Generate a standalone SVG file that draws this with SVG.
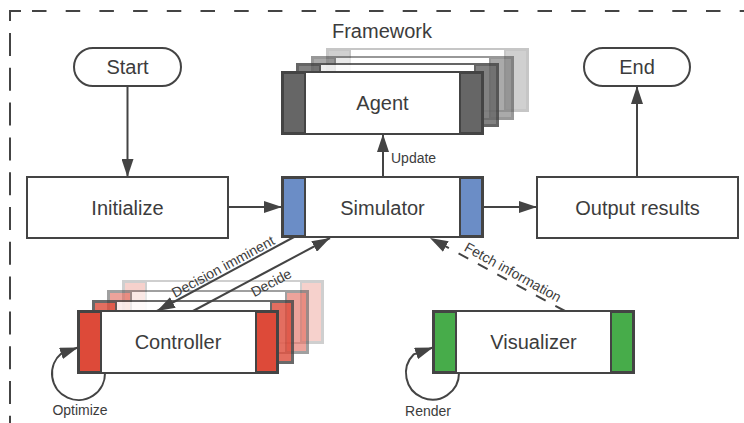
<svg xmlns="http://www.w3.org/2000/svg" width="744" height="423" viewBox="0 0 744 423">
<style>
.box{fill:#fff;stroke:#444;stroke-width:2}
.lbl{font-family:"Liberation Sans",Arial,sans-serif;font-size:20px;fill:#3c3c3c;text-anchor:middle}
.sm{font-family:"Liberation Sans",Arial,sans-serif;font-size:14px;fill:#3c3c3c}
.con{fill:none;stroke:#444;stroke-width:2}
.agent{fill:#666}
.sim{fill:#6b8dc6}
.ctl{fill:#dd4a39}
.vis{fill:#47ac4a}
</style>
<defs>
<marker id="ah" markerUnits="userSpaceOnUse" markerWidth="18" markerHeight="12" refX="18" refY="6" orient="auto">
<path d="M0,0 L18,6 L0,12 z" fill="#444"/>
</marker>
<g id="agentShape">
<rect class="box" x="0" y="0" width="201" height="62"/>
<rect class="agent" x="1" y="1" width="22" height="60" stroke="#444" stroke-width="2"/>
<rect class="agent" x="178" y="1" width="22" height="60" stroke="#444" stroke-width="2"/>
</g>
<g id="ctlShape">
<rect class="box" x="0" y="0" width="200" height="62"/>
<rect class="ctl" x="1" y="1" width="22" height="60" stroke="#444" stroke-width="2"/>
<rect class="ctl" x="178" y="1" width="21" height="60" stroke="#444" stroke-width="2"/>
</g>
</defs>

<g id="frame" fill="none" stroke="#444" stroke-width="2">
<path d="M10,21 V11 H21"/>
<path d="M32,11 H744" stroke-dasharray="14.5 19.2"/>
<path d="M10,33 V423" stroke-dasharray="23 11.8"/>
</g>

<text class="lbl" x="382" y="38">Framework</text>

<g id="start">
<rect class="box" x="74" y="48" width="107" height="38" rx="19"/>
<text class="lbl" x="127.5" y="74">Start</text>
</g>

<g id="end">
<rect class="box" x="584" y="48" width="106" height="38" rx="19"/>
<text class="lbl" x="637" y="74">End</text>
</g>

<g id="initialize">
<rect class="box" x="27" y="177" width="201" height="61"/>
<text class="lbl" x="127.5" y="214.5">Initialize</text>
</g>

<g id="output">
<rect class="box" x="537" y="177" width="201" height="61"/>
<text class="lbl" x="637.5" y="214.5">Output results</text>
</g>

<g id="agent">
<use href="#agentShape" x="327" y="49" opacity="0.3"/>
<use href="#agentShape" x="312" y="57" opacity="0.55"/>
<use href="#agentShape" x="297" y="64" opacity="0.82"/>
<use href="#agentShape" x="282" y="72"/>
<text class="lbl" x="382.5" y="110">Agent</text>
</g>

<g id="simulator">
<rect class="box" x="282" y="177" width="201" height="60"/>
<rect class="sim" x="283" y="178" width="22" height="58" stroke="#444" stroke-width="2"/>
<rect class="sim" x="460" y="178" width="22" height="58" stroke="#444" stroke-width="2"/>
<text class="lbl" x="382.5" y="214.5">Simulator</text>
</g>

<g id="controller">
<use href="#ctlShape" x="123" y="281" opacity="0.25"/>
<use href="#ctlShape" x="108" y="291" opacity="0.5"/>
<use href="#ctlShape" x="93" y="301" opacity="0.8"/>
<use href="#ctlShape" x="78" y="311"/>
<text class="lbl" x="178" y="349">Controller</text>
</g>

<g id="visualizer">
<rect class="box" x="433" y="311" width="201" height="62"/>
<rect class="vis" x="434" y="312" width="22" height="60" stroke="#444" stroke-width="2"/>
<rect class="vis" x="611" y="312" width="22" height="60" stroke="#444" stroke-width="2"/>
<text class="lbl" x="533.5" y="349">Visualizer</text>
</g>

<g id="connectors">
<line class="con" x1="127.5" y1="86" x2="127.5" y2="177" marker-end="url(#ah)"/>
<line class="con" x1="228" y1="207" x2="282" y2="207" marker-end="url(#ah)"/>
<line class="con" x1="483" y1="207" x2="537" y2="207" marker-end="url(#ah)"/>
<line class="con" x1="637" y1="177" x2="637" y2="86" marker-end="url(#ah)"/>
<line class="con" x1="383" y1="177" x2="383" y2="134" marker-end="url(#ah)"/>
<line class="con" x1="294" y1="237" x2="157" y2="311" marker-end="url(#ah)"/>
<line class="con" x1="193" y1="311" x2="330" y2="238" marker-end="url(#ah)"/>
<line class="con" x1="565" y1="311" x2="430" y2="238" stroke-dasharray="11 11" marker-end="url(#ah)"/>
<path class="con" d="M105,373 A26.5,26.5 0 1 1 61.5,353.2 L78,347.5" marker-end="url(#ah)"/>
<path class="con" d="M459,373 A26.5,26.5 0 1 1 413.8,354.3 L433,347.5" marker-end="url(#ah)"/>
</g>

<g id="labels">
<text class="sm" x="391" y="163">Update</text>
<text class="sm" text-anchor="middle" transform="translate(225.4,270.9) rotate(-28.4)">Decision imminent</text>
<text class="sm" text-anchor="middle" transform="translate(273.4,287) rotate(-28)">Decide</text>
<text class="sm" text-anchor="middle" transform="translate(510.6,276.4) rotate(29)">Fetch information</text>
<text class="sm" text-anchor="middle" x="80" y="415">Optimize</text>
<text class="sm" text-anchor="middle" x="428" y="416">Render</text>
</g>
</svg>
